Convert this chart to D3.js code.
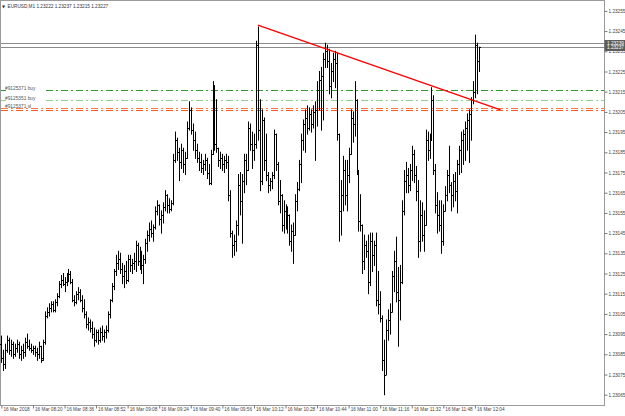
<!DOCTYPE html>
<html><head><meta charset="utf-8">
<script src="https://cdn.jsdelivr.net/npm/d3@7"></script>
<style>html,body{margin:0;padding:0;background:#fff;overflow:hidden}svg{display:block}</style>
</head><body>
<svg id="c" width="625" height="416"></svg>
<script>
const symbolTitle = "EURUSD,M1";
const headerValues = ["1.23222", "1.23237", "1.23215", "1.23227"];
const firstBarTime = "2018-03-16 08:04";

const open = [1.23090,1.23083,1.23080,1.23087,1.23092,1.23087,1.23090,1.23085,1.23088,1.23090,
1.23085,1.23087,1.23086,1.23091,1.23089,1.23088,1.23087,1.23088,1.23086,1.23085,
1.23089,1.23083,1.23091,1.23104,1.23106,1.23108,1.23110,1.23107,1.23111,1.23114,
1.23120,1.23122,1.23120,1.23121,1.23124,1.23125,1.23121,1.23112,1.23111,1.23115,
1.23116,1.23112,1.23108,1.23105,1.23100,1.23101,1.23098,1.23095,1.23092,1.23096,
1.23092,1.23096,1.23094,1.23096,1.23097,1.23105,1.23112,1.23119,1.23126,1.23130,
1.23132,1.23127,1.23124,1.23126,1.23122,1.23132,1.23129,1.23130,1.23131,1.23139,
1.23131,1.23134,1.23129,1.23132,1.23140,1.23144,1.23147,1.23145,1.23148,1.23156,
1.23159,1.23152,1.23154,1.23158,1.23164,1.23159,1.23157,1.23160,1.23181,1.23191,
1.23185,1.23180,1.23186,1.23179,1.23182,1.23197,1.23206,1.23196,1.23191,1.23186,
1.23182,1.23180,1.23177,1.23179,1.23181,1.23175,1.23170,1.23184,1.23216,1.23189,
1.23187,1.23181,1.23182,1.23179,1.23181,1.23180,1.23164,1.23145,1.23139,1.23141,
1.23149,1.23169,1.23161,1.23171,1.23181,1.23176,1.23197,1.23189,1.23186,1.23189,
1.23238,1.23196,1.23171,1.23201,1.23181,1.23174,1.23169,1.23171,1.23174,1.23194,
1.23179,1.23161,1.23164,1.23149,1.23156,1.23151,1.23154,1.23141,1.23146,1.23144,
1.23161,1.23167,1.23179,1.23191,1.23199,1.23202,1.23197,1.23204,1.23199,1.23205,
1.23206,1.23216,1.23221,1.23223,1.23231,1.23235,1.23230,1.23218,1.23225,1.23231,
1.23229,1.23194,1.23156,1.23164,1.23176,1.23164,1.23174,1.23184,1.23202,1.23199,
1.23211,1.23176,1.23151,1.23149,1.23131,1.23139,1.23136,1.23121,1.23141,1.23134,
1.23139,1.23112,1.23110,1.23103,1.23082,1.23075,1.23097,1.23102,1.23106,1.23124,
1.23131,1.23116,1.23112,1.23121,1.23156,1.23171,1.23174,1.23169,1.23176,1.23184,
1.23174,1.23166,1.23141,1.23154,1.23144,1.23149,1.23191,1.23186,1.23191,1.23211,
1.23176,1.23159,1.23154,1.23149,1.23141,1.23156,1.23164,1.23174,1.23169,1.23164,
1.23171,1.23166,1.23179,1.23186,1.23191,1.23194,1.23197,1.23201,1.23204,1.23211,
1.23215,1.23238,1.23230];

const high = [1.23094,1.23087,1.23090,1.23094,1.23093,1.23092,1.23091,1.23090,1.23092,1.23091,
1.23089,1.23090,1.23093,1.23095,1.23092,1.23090,1.23089,1.23089,1.23088,1.23091,
1.23089,1.23092,1.23106,1.23108,1.23110,1.23111,1.23111,1.23112,1.23115,1.23121,
1.23124,1.23125,1.23123,1.23125,1.23127,1.23126,1.23122,1.23114,1.23116,1.23118,
1.23117,1.23114,1.23112,1.23106,1.23103,1.23102,1.23101,1.23098,1.23097,1.23097,
1.23098,1.23099,1.23097,1.23099,1.23106,1.23112,1.23120,1.23127,1.23134,1.23136,
1.23135,1.23130,1.23129,1.23131,1.23134,1.23134,1.23132,1.23135,1.23141,1.23140,
1.23138,1.23136,1.23134,1.23142,1.23146,1.23150,1.23151,1.23149,1.23158,1.23161,
1.23159,1.23156,1.23160,1.23166,1.23164,1.23162,1.23161,1.23184,1.23195,1.23192,
1.23187,1.23189,1.23187,1.23185,1.23200,1.23210,1.23207,1.23199,1.23195,1.23189,
1.23185,1.23184,1.23181,1.23184,1.23182,1.23179,1.23186,1.23220,1.23218,1.23211,
1.23187,1.23185,1.23184,1.23183,1.23184,1.23183,1.23166,1.23146,1.23144,1.23151,
1.23174,1.23175,1.23174,1.23184,1.23184,1.23200,1.23199,1.23195,1.23194,1.23240,
1.23247,1.23211,1.23206,1.23202,1.23194,1.23175,1.23172,1.23175,1.23196,1.23194,
1.23180,1.23171,1.23164,1.23161,1.23159,1.23158,1.23154,1.23149,1.23150,1.23164,
1.23170,1.23181,1.23194,1.23201,1.23206,1.23208,1.23207,1.23206,1.23208,1.23210,
1.23220,1.23225,1.23227,1.23234,1.23239,1.23238,1.23236,1.23229,1.23234,1.23235,
1.23234,1.23194,1.23171,1.23183,1.23181,1.23181,1.23187,1.23206,1.23205,1.23220,
1.23211,1.23176,1.23164,1.23149,1.23144,1.23141,1.23144,1.23145,1.23145,1.23141,
1.23145,1.23126,1.23116,1.23104,1.23092,1.23102,1.23107,1.23110,1.23126,1.23136,
1.23143,1.23128,1.23129,1.23161,1.23176,1.23180,1.23177,1.23179,1.23188,1.23186,
1.23178,1.23171,1.23161,1.23160,1.23156,1.23196,1.23195,1.23194,1.23217,1.23213,
1.23179,1.23165,1.23161,1.23161,1.23159,1.23168,1.23176,1.23188,1.23170,1.23174,
1.23175,1.23181,1.23188,1.23195,1.23196,1.23200,1.23204,1.23206,1.23212,1.23220,
1.23243,1.23239,1.23237];

const low = [1.23081,1.23077,1.23078,1.23086,1.23085,1.23084,1.23083,1.23084,1.23086,1.23083,
1.23082,1.23083,1.23084,1.23088,1.23087,1.23086,1.23085,1.23084,1.23082,1.23083,
1.23081,1.23082,1.23090,1.23103,1.23104,1.23106,1.23106,1.23106,1.23109,1.23113,
1.23118,1.23119,1.23116,1.23119,1.23121,1.23120,1.23111,1.23109,1.23110,1.23112,
1.23111,1.23106,1.23103,1.23098,1.23097,1.23096,1.23093,1.23089,1.23091,1.23090,
1.23091,1.23092,1.23091,1.23093,1.23096,1.23103,1.23111,1.23117,1.23124,1.23127,
1.23125,1.23120,1.23118,1.23120,1.23121,1.23126,1.23125,1.23127,1.23126,1.23129,
1.23127,1.23125,1.23120,1.23130,1.23136,1.23141,1.23143,1.23141,1.23147,1.23154,
1.23149,1.23145,1.23150,1.23156,1.23155,1.23155,1.23156,1.23159,1.23180,1.23181,
1.23171,1.23177,1.23175,1.23174,1.23182,1.23196,1.23194,1.23186,1.23182,1.23180,
1.23176,1.23175,1.23174,1.23176,1.23172,1.23169,1.23169,1.23184,1.23186,1.23185,
1.23178,1.23177,1.23176,1.23175,1.23177,1.23161,1.23143,1.23133,1.23134,1.23136,
1.23144,1.23154,1.23140,1.23165,1.23169,1.23176,1.23186,1.23177,1.23181,1.23187,
1.23191,1.23166,1.23169,1.23176,1.23171,1.23165,1.23166,1.23167,1.23172,1.23176,
1.23159,1.23155,1.23146,1.23145,1.23147,1.23145,1.23139,1.23136,1.23130,1.23144,
1.23156,1.23166,1.23170,1.23186,1.23185,1.23194,1.23196,1.23195,1.23197,1.23181,
1.23198,1.23206,1.23196,1.23201,1.23227,1.23227,1.23214,1.23212,1.23220,1.23217,
1.23191,1.23141,1.23144,1.23156,1.23159,1.23156,1.23170,1.23184,1.23190,1.23193,
1.23174,1.23146,1.23146,1.23125,1.23127,1.23133,1.23115,1.23119,1.23126,1.23129,
1.23109,1.23105,1.23101,1.23077,1.23065,1.23075,1.23092,1.23095,1.23106,1.23116,
1.23111,1.23089,1.23102,1.23120,1.23154,1.23165,1.23165,1.23166,1.23171,1.23170,
1.23161,1.23133,1.23136,1.23141,1.23136,1.23149,1.23181,1.23182,1.23191,1.23174,
1.23155,1.23145,1.23146,1.23135,1.23139,1.23156,1.23161,1.23165,1.23156,1.23158,
1.23161,1.23155,1.23174,1.23175,1.23179,1.23181,1.23186,1.23180,1.23191,1.23209,
1.23212,1.23214,1.23225];

const close = [1.23083,1.23080,1.23087,1.23092,1.23087,1.23090,1.23085,1.23088,1.23090,1.23085,
1.23087,1.23086,1.23091,1.23089,1.23088,1.23087,1.23088,1.23086,1.23085,1.23089,
1.23082,1.23091,1.23104,1.23106,1.23108,1.23110,1.23107,1.23111,1.23114,1.23120,
1.23122,1.23120,1.23121,1.23124,1.23125,1.23121,1.23112,1.23111,1.23115,1.23116,
1.23112,1.23108,1.23105,1.23100,1.23101,1.23098,1.23095,1.23092,1.23096,1.23092,
1.23096,1.23094,1.23096,1.23097,1.23105,1.23112,1.23119,1.23126,1.23130,1.23132,
1.23127,1.23124,1.23126,1.23122,1.23132,1.23129,1.23130,1.23131,1.23139,1.23131,
1.23134,1.23129,1.23132,1.23140,1.23144,1.23147,1.23145,1.23148,1.23156,1.23159,
1.23152,1.23154,1.23158,1.23164,1.23159,1.23157,1.23160,1.23181,1.23191,1.23185,
1.23180,1.23186,1.23179,1.23182,1.23197,1.23206,1.23196,1.23191,1.23186,1.23182,
1.23180,1.23177,1.23179,1.23181,1.23175,1.23170,1.23184,1.23216,1.23189,1.23187,
1.23181,1.23182,1.23179,1.23181,1.23180,1.23164,1.23145,1.23139,1.23141,1.23149,
1.23169,1.23161,1.23171,1.23181,1.23176,1.23197,1.23189,1.23186,1.23189,1.23238,
1.23196,1.23171,1.23201,1.23181,1.23174,1.23169,1.23171,1.23174,1.23194,1.23179,
1.23161,1.23164,1.23149,1.23156,1.23151,1.23154,1.23141,1.23146,1.23144,1.23161,
1.23167,1.23179,1.23191,1.23199,1.23202,1.23197,1.23204,1.23199,1.23205,1.23206,
1.23216,1.23221,1.23223,1.23231,1.23235,1.23230,1.23218,1.23225,1.23231,1.23229,
1.23194,1.23156,1.23164,1.23176,1.23164,1.23174,1.23184,1.23202,1.23199,1.23211,
1.23176,1.23151,1.23149,1.23131,1.23139,1.23136,1.23121,1.23141,1.23134,1.23139,
1.23112,1.23110,1.23103,1.23082,1.23075,1.23097,1.23102,1.23106,1.23124,1.23131,
1.23116,1.23112,1.23121,1.23156,1.23171,1.23174,1.23169,1.23176,1.23184,1.23174,
1.23166,1.23141,1.23154,1.23144,1.23149,1.23191,1.23186,1.23191,1.23211,1.23176,
1.23159,1.23154,1.23149,1.23141,1.23156,1.23164,1.23174,1.23169,1.23164,1.23171,
1.23166,1.23179,1.23186,1.23191,1.23194,1.23197,1.23201,1.23204,1.23211,1.23215,
1.23238,1.23230,1.23237];

const priceTicks = [1.23255,1.23245,1.23235,1.23225,1.23215,1.23205,1.23195,1.23185,1.23175,1.23165,
1.23155,1.23145,1.23135,1.23125,1.23115,1.23105,1.23095,1.23085,1.23075,1.23065];

const timeTickTimes = ["08:04","08:20","08:36","08:52","09:08","09:24","09:40","09:56",
"10:12","10:28","10:44","11:00","11:16","11:32","11:48","12:04"];
const timeTickLabels = ["16 Mar 2018","16 Mar 08:20","16 Mar 08:36","16 Mar 08:52","16 Mar 09:08",
"16 Mar 09:24","16 Mar 09:40","16 Mar 09:56","16 Mar 10:12","16 Mar 10:28","16 Mar 10:44",
"16 Mar 11:00","16 Mar 11:16","16 Mar 11:32","16 Mar 11:48","16 Mar 12:04"];

const askPrice = 1.23239;
const bidPrice = 1.23237;

const orderLabels = ["#9125371 buy", "#9125351 buy", "#9125371 sl", ""];
const orderPrices = [1.23216, 1.23211, 1.23207, 1.23206];

const trendTimes = ["10:14", "12:17"];
const trendPrices = [1.23248, 1.23206];

// ---------- drawing ----------
const svg = d3.select("#c");
const FONT = "'Liberation Sans', Arial, sans-serif";
const parse = d3.timeParse("%Y-%m-%d %H:%M");
const day = "2018-03-16 ";
const t0 = parse(firstBarTime);
const barTimes = open.map((_, i) => d3.timeMinute.offset(t0, i));

const x = d3.scaleTime().domain([t0, parse(day + "12:04")]).range([1.4, 474.9]);
const y = d3.scaleLinear().domain([1.23065, 1.23255]).range([394.7, 10.9]);

const W = 604.5, H = 405.5;

// frame
svg.append("rect").attr("x", 0.5).attr("y", 0.5).attr("width", W - 0.5).attr("height", H - 0.5)
  .attr("fill", "none").attr("stroke", "#9a9a9a").attr("stroke-width", 1);

// order lines
const orderColors = ["#2e9b2e", "#8fd08f", "#ff7a40", "#ff5a20"];
orderPrices.forEach((p, i) => {
  const yy = Math.round(y(p)) + 0.5;
  svg.append("line").attr("x1", 1).attr("x2", W).attr("y1", yy).attr("y2", yy)
    .attr("stroke", orderColors[i]).attr("stroke-width", 1).attr("stroke-dasharray", "7,3,2,3");
  if (i < 2) {
    svg.append("rect").attr("x", 6).attr("y", yy - 1.5).attr("width", 37).attr("height", 3).attr("fill", "#fff");
  }
});
orderPrices.forEach((p, i) => {
  if (!orderLabels[i]) return;
  const yy = Math.round(y(p)) + 0.5;
  svg.append("text").attr("x", 5).attr("y", yy - 0.5).text(orderLabels[i])
    .attr("font-family", FONT).attr("font-size", 4.8).attr("fill", "#555");
});

// bid / ask lines
[askPrice, bidPrice].forEach(p => {
  const yy = Math.round(y(p)) + 0.5;
  svg.append("line").attr("x1", 1).attr("x2", W).attr("y1", yy).attr("y2", yy)
    .attr("stroke", "#8a8a8a").attr("stroke-width", 1);
});

// bars (OHLC)
const gBars = svg.append("g").attr("stroke", "#000").attr("stroke-width", 1);
barTimes.forEach((t, i) => {
  const xx = Math.round(x(t)) + 0.5;
  gBars.append("line").attr("x1", xx).attr("x2", xx)
    .attr("y1", y(high[i]) - 0.5).attr("y2", y(low[i]) + 0.5);
  gBars.append("line").attr("x1", xx - 1.5).attr("x2", xx).attr("y1", Math.round(y(open[i])) + 0.5).attr("y2", Math.round(y(open[i])) + 0.5);
  gBars.append("line").attr("x1", xx).attr("x2", xx + 1.5).attr("y1", Math.round(y(close[i])) + 0.5).attr("y2", Math.round(y(close[i])) + 0.5);
});

// trend line
svg.append("line")
  .attr("x1", x(parse(day + trendTimes[0]))).attr("y1", y(trendPrices[0]))
  .attr("x2", x(parse(day + trendTimes[1]))).attr("y2", y(trendPrices[1]))
  .attr("stroke", "#ff0000").attr("stroke-width", 1.4);

// price axis
const yAxis = d3.axisRight(y).tickValues(priceTicks).tickSize(3).tickPadding(1).tickFormat(d3.format(".5f"));
const gy = svg.append("g").attr("transform", `translate(${W},0)`).call(yAxis);
gy.select(".domain").remove();
gy.selectAll("line").attr("stroke", "#777");
gy.selectAll("text").attr("font-family", FONT).attr("font-size", 4.7).attr("fill", "#444");

// time axis
const timeDates = timeTickTimes.map(s => parse(day + s));
const xAxis = d3.axisBottom(x).tickValues(timeDates).tickSize(3).tickPadding(2)
  .tickFormat((d, i) => timeTickLabels[i]);
const gx = svg.append("g").attr("transform", `translate(0,${H})`).call(xAxis);
gx.select(".domain").remove();
gx.selectAll("line").attr("stroke", "#777");
gx.selectAll("text").attr("font-family", FONT).attr("font-size", 4.7).attr("fill", "#444")
  .attr("text-anchor", "start").attr("x", 1.5).attr("y", 2.5);

// bid/ask price boxes
const boxTop = Math.round(y(askPrice)) - 3, boxBot = Math.round(y(bidPrice)) + 4;
svg.append("rect").attr("x", W).attr("y", boxTop).attr("width", 625 - W).attr("height", boxBot - boxTop)
  .attr("fill", "#5c5c5c");
[askPrice, bidPrice].forEach(p => {
  svg.append("text").attr("x", W + 2.5).attr("y", y(p)).attr("dy", "0.35em")
    .text(d3.format(".5f")(p)).attr("font-family", FONT).attr("font-size", 4.7).attr("fill", "#fff");
});

// header
svg.append("text").attr("x", 2).attr("y", 8).text("\u25BC")
  .attr("font-family", "'DejaVu Sans', sans-serif").attr("font-size", 4).attr("fill", "#333");
svg.append("text").attr("x", 7.5).attr("y", 8)
  .text(symbolTitle + "  " + headerValues.join(" "))
  .attr("font-family", FONT).attr("font-size", 4.7).attr("fill", "#333");
</script>
</body></html>
